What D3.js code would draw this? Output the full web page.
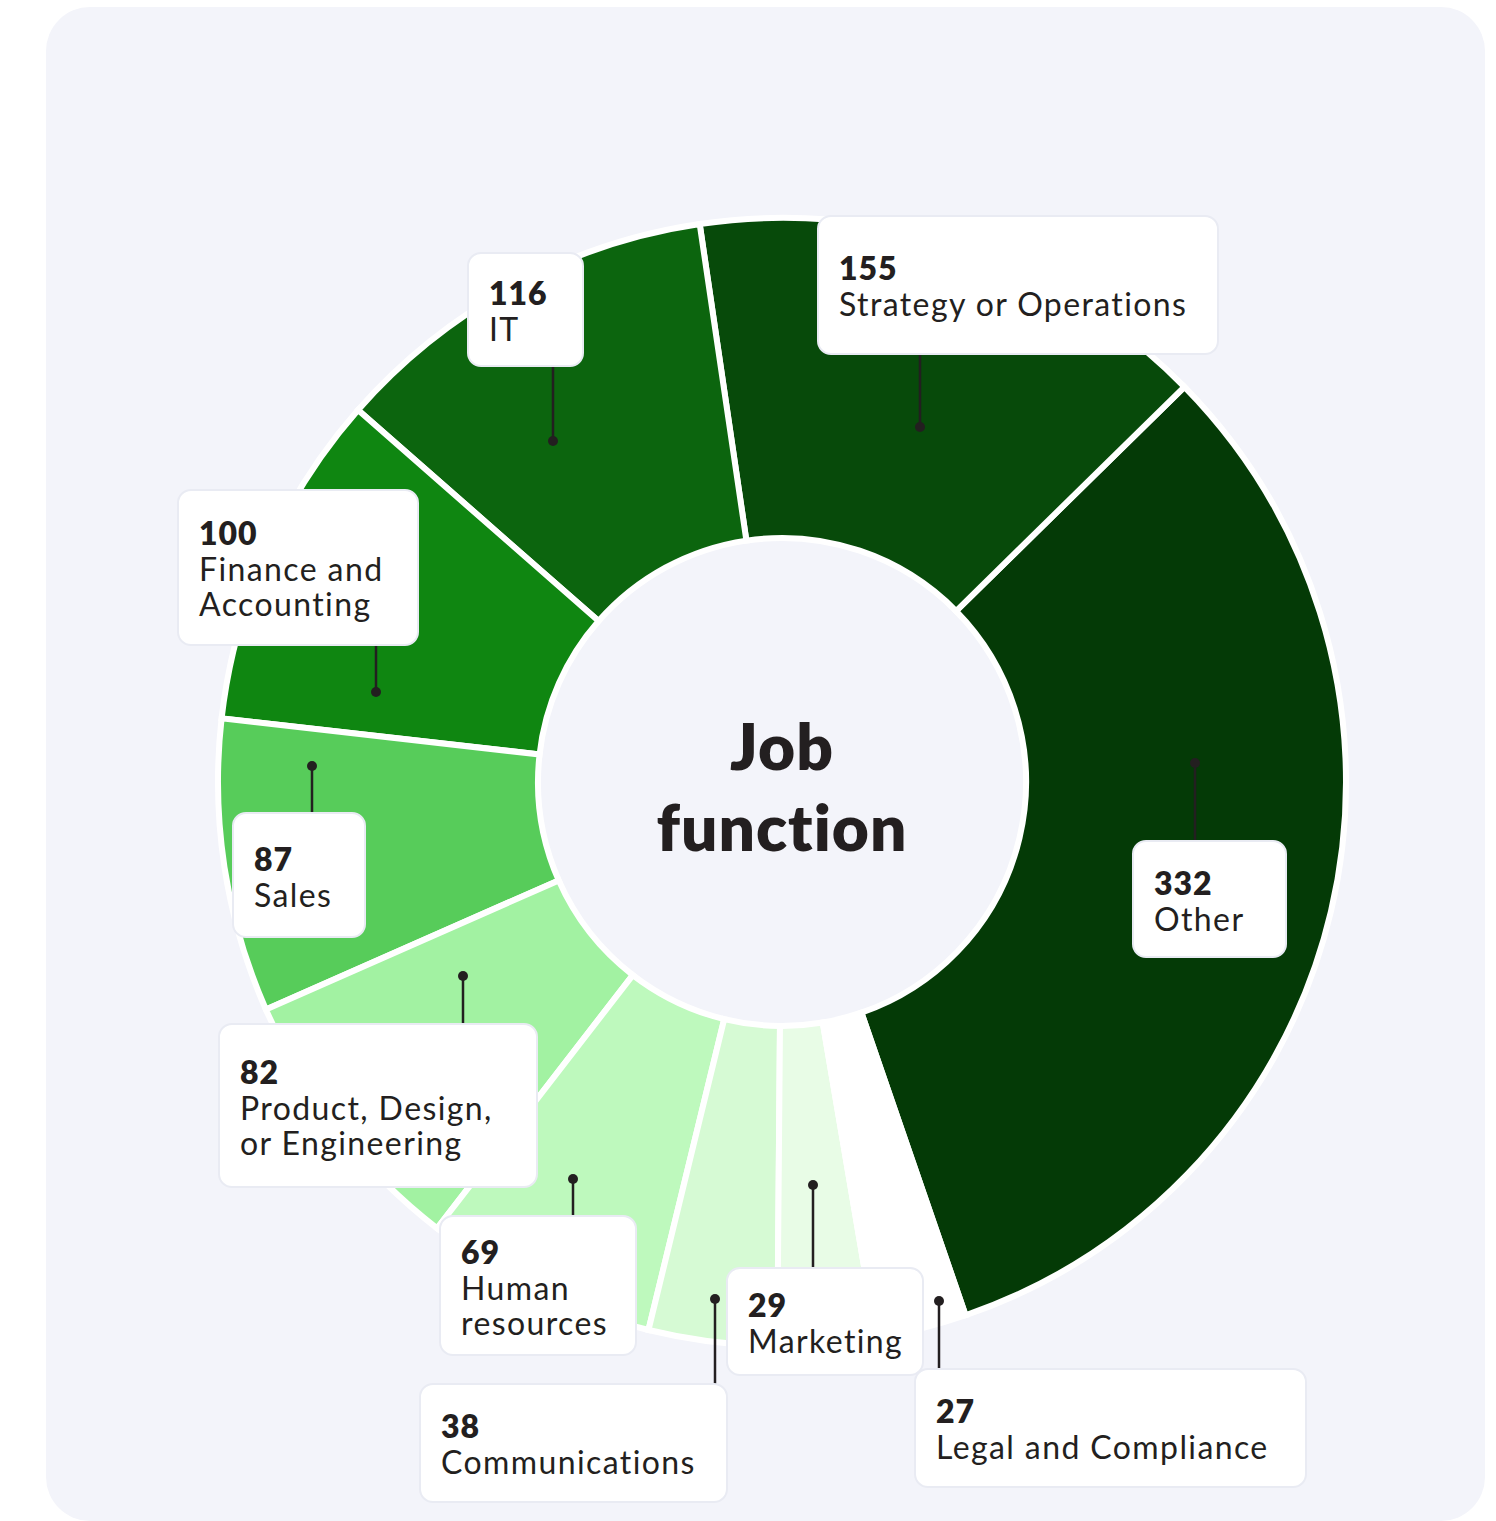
<!DOCTYPE html>
<html>
<head>
<meta charset="utf-8">
<script src="https://cdn.jsdelivr.net/npm/d3@7"></script>
<style>
  html, body { margin: 0; padding: 0; background: #ffffff; }
  svg { display: block; }
</style>
</head>
<body>
<svg id="chart" width="1496" height="1521"></svg>
<script>
// Respondents by job function
const categories = [
  "Other",
  "Strategy or Operations",
  "IT",
  "Finance and Accounting",
  "Sales",
  "Product, Design, or Engineering",
  "Human resources",
  "Communications",
  "Marketing",
  "Legal and Compliance"
];
const counts = [332, 155, 116, 100, 87, 82, 69, 38, 29, 27];
const sliceColors = [
  "#043a06", "#074a0a", "#0c650e", "#0f8611", "#57cc5a",
  "#a2f2a2", "#bef9bd", "#d6fad4", "#e8fce6", "#ffffff"
];
const centerTitle = ["Job", "function"];

// Callout placement: wrapped label lines, anchor dot, box rect [x, y, w, h], first baseline
const labelLayout = [
  { lines: ["Other"],                         dot: [1195, 763],  box: [1133, 841, 153, 116], base: 895 },
  { lines: ["Strategy or Operations"],        dot: [920, 427],   box: [818, 216, 400, 138],  base: 280 },
  { lines: ["IT"],                            dot: [553, 441],   box: [468, 253, 115, 113],  base: 305 },
  { lines: ["Finance and", "Accounting"],     dot: [376, 692],   box: [178, 490, 240, 155],  base: 545 },
  { lines: ["Sales"],                         dot: [312, 766],   box: [233, 813, 132, 124],  base: 871 },
  { lines: ["Product, Design,", "or Engineering"], dot: [463, 976], box: [219, 1024, 318, 163], base: 1084 },
  { lines: ["Human", "resources"],            dot: [573, 1179],  box: [440, 1216, 196, 139], base: 1264 },
  { lines: ["Communications"],                dot: [715, 1299],  box: [420, 1384, 307, 118], base: 1438 },
  { lines: ["Marketing"],                     dot: [813, 1185],  box: [727, 1268, 196, 107], base: 1317 },
  { lines: ["Legal and Compliance"],          dot: [939, 1301],  box: [915, 1369, 391, 118], base: 1423 }
];

const W = 1496, H = 1521;
const cx = 782, cy = 782;
const outerR = 564, innerR = 244;
const ink = "#231f20";
const fontFamily = "Lato, 'Open Sans', sans-serif";
const lineGap = 35.5;

const svg = d3.select("#chart");

// Card background
svg.append("rect")
  .attr("x", 46).attr("y", 7)
  .attr("width", 1439).attr("height", 1514)
  .attr("rx", 44).attr("ry", 44)
  .attr("fill", "#f3f4fa");

const rows = categories.map((c, i) => ({ name: c, value: counts[i], color: sliceColors[i], layout: labelLayout[i] }));

const color = d3.scaleOrdinal().domain(categories).range(sliceColors);

// Smallest slice first, running clockwise from just past six o'clock
const startDeg = 161;
const pie = d3.pie()
  .value(d => d.value)
  .sort((a, b) => a.value - b.value)
  .startAngle(startDeg * Math.PI / 180)
  .endAngle(startDeg * Math.PI / 180 + 2 * Math.PI);

const arc = d3.arc().innerRadius(innerR).outerRadius(outerR);

const g = svg.append("g").attr("transform", `translate(${cx},${cy})`);

g.selectAll("path.slice")
  .data(pie(rows))
  .join("path")
  .attr("class", "slice")
  .attr("d", arc)
  .attr("fill", d => color(d.data.name))
  .attr("stroke", "#ffffff")
  .attr("stroke-width", 6)
  .attr("stroke-linejoin", "miter");

// Center title
const title = svg.append("text")
  .attr("text-anchor", "middle")
  .attr("font-family", fontFamily)
  .attr("font-weight", 800)
  .attr("font-size", 64)
  .attr("letter-spacing", 1)
  .attr("fill", ink);
title.selectAll("tspan")
  .data(centerTitle)
  .join("tspan")
  .attr("x", cx)
  .attr("y", (d, i) => 770 + i * 81)
  .text(d => d);

// Callouts
const callouts = svg.append("g");

const leader = callouts.selectAll("g.callout")
  .data(rows)
  .join("g")
  .attr("class", "callout");

leader.append("line")
  .attr("x1", d => d.layout.dot[0])
  .attr("y1", d => d.layout.dot[1])
  .attr("x2", d => d.layout.dot[0])
  .attr("y2", d => {
    const [bx, by, bw, bh] = d.layout.box;
    return by > d.layout.dot[1] ? by + 2 : by + bh - 2;
  })
  .attr("stroke", ink)
  .attr("stroke-width", 2.5);

leader.append("circle")
  .attr("cx", d => d.layout.dot[0])
  .attr("cy", d => d.layout.dot[1])
  .attr("r", 5)
  .attr("fill", ink);

leader.append("rect")
  .attr("x", d => d.layout.box[0])
  .attr("y", d => d.layout.box[1])
  .attr("width", d => d.layout.box[2])
  .attr("height", d => d.layout.box[3])
  .attr("rx", 13).attr("ry", 13)
  .attr("fill", "#ffffff")
  .attr("stroke", "#e9ebf3")
  .attr("stroke-width", 2);

const label = leader.append("text")
  .attr("font-family", fontFamily)
  .attr("font-size", 32)
  .attr("fill", ink);

label.append("tspan")
  .attr("x", d => d.layout.box[0] + 21)
  .attr("y", d => d.layout.base)
  .attr("font-weight", 800)
  .attr("letter-spacing", 1)
  .text(d => d.value);

label.selectAll("tspan.name")
  .data(d => d.layout.lines.map((t, i) => ({ t, i, x: d.layout.box[0] + 21, y: d.layout.base + (i + 1) * lineGap })))
  .join("tspan")
  .attr("class", "name")
  .attr("x", d => d.x)
  .attr("y", d => d.y)
  .attr("font-weight", 400)
  .attr("letter-spacing", 1.4)
  .text(d => d.t);
</script>
</body>
</html>
